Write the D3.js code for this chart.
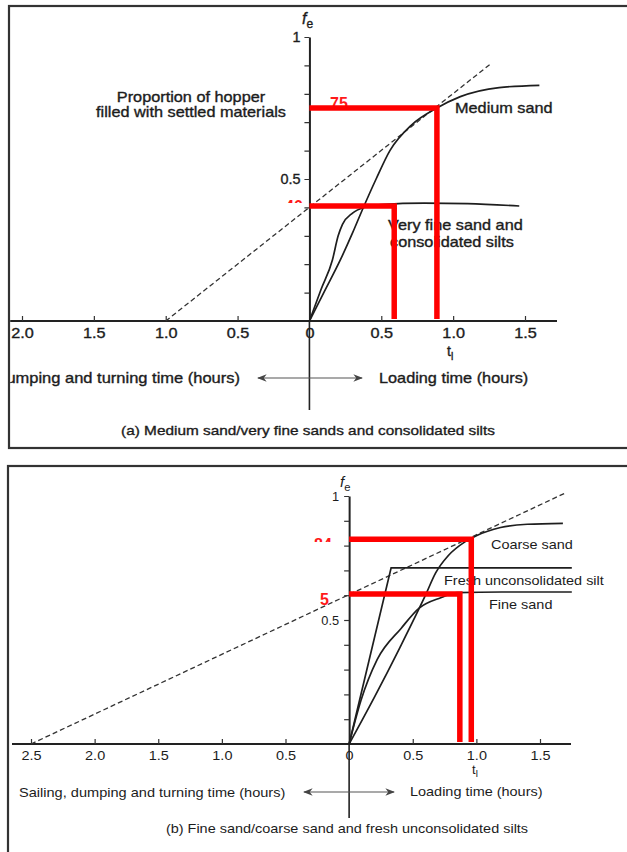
<!DOCTYPE html>
<html>
<head>
<meta charset="utf-8">
<script src="https://cdn.jsdelivr.net/npm/d3@7"></script>
<style>
  body { margin: 0; background: #fff; }
  svg { display: block; }
  text { font-family: "Liberation Sans", Arial, sans-serif; fill: #1c1c1c; }
  .heavy text { stroke: #1c1c1c; stroke-width: 0.35px; }
</style>
</head>
<body>
<div id="chart"></div>
<script>
//======= Data ======//
// x = time (hours, negative = sailing/dumping side), y = fe
var xTicksA = [-2, -1.5, -1, -0.5, 0, 0.5, 1, 1.5];
var xTicksB = [-2.5, -2, -1.5, -1, -0.5, 0, 0.5, 1, 1.5];
var yTicks = [0.1, 0.2, 0.3, 0.4, 0.5, 0.6, 0.7, 0.8, 0.9, 1];
var yLabelled = [0.5, 1];

// panel (a) curves: [loading time, fe]
var mediumSand = [[0, 0], [0.1, 0.1], [0.215, 0.215], [0.3, 0.31], [0.367, 0.39], [0.464, 0.5],
    [0.56, 0.6], [0.71, 0.69], [0.887, 0.75], [1.05, 0.79], [1.32, 0.822], [1.6, 0.83]];
var veryFineSand = [[0, 0], [0.08, 0.11], [0.16, 0.215], [0.2, 0.3], [0.23, 0.34], [0.3, 0.38],
    [0.38, 0.4], [0.5, 0.41], [0.8, 0.415], [1.1, 0.413], [1.46, 0.405]];
var tangentA = [[-1, 0], [1.26, 0.905]];
var guidesA = [{t: 0.887, fe: 0.75, label: "75"}, {t: 0.59, fe: 0.405, label: "40"}];

// panel (b) curves
var coarseSand = [[0, 0], [0.2, 0.19], [0.4, 0.39], [0.6, 0.6], [0.68, 0.69], [0.78, 0.76],
    [0.91, 0.815], [1.0, 0.84], [1.19, 0.873], [1.4, 0.886], [1.68, 0.89]];
var freshSilt = [[0, 0], [0.33, 0.71], [1.75, 0.71]];
var fineSand = [[0, 0], [0.094, 0.177], [0.22, 0.34], [0.41, 0.467], [0.55, 0.548], [0.72, 0.59],
    [0.85, 0.61], [1.2, 0.613], [1.75, 0.613]];
var tangentB = [[-2.5, 0], [1.69, 1.01]];
var guidesB = [{t: 0.96, fe: 0.826, label: "84"}, {t: 0.87, fe: 0.605, label: "5"}];

var W = 627, H = 852;
var SX = 1.13; // the scan is a bit wider than a normal sans

var svg = d3.select("#chart").append("svg")
    .attr("width", W)
    .attr("height", H);
var defs = svg.append("defs");

defs.append("marker")
    .attr("id", "arrow")
    .attr("viewBox", "0 0 10 10")
    .attr("refX", 9).attr("refY", 5)
    .attr("markerWidth", 8).attr("markerHeight", 8)
    .attr("orient", "auto-start-reverse")
    .append("path")
    .attr("d", "M0,1 L10,5 L0,9 L3,5 Z")
    .attr("fill", "#444");

// stretched text helper
function label(g, x, y, str, size, anchor) {
    return g.append("text")
        .attr("transform", "translate(" + x + "," + y + ") scale(" + SX + ",1)")
        .attr("text-anchor", anchor || "start")
        .style("font-size", size + "px")
        .text(str);
}

function subLabel(g, x, y, main, sub, size, italic) {
    var t = g.append("text")
        .attr("transform", "translate(" + x + "," + y + ")")
        .style("font-size", size + "px");
    t.append("tspan").style("font-style", italic ? "italic" : "normal").text(main);
    t.append("tspan").attr("dy", size * 0.25).style("font-size", (size * 0.75) + "px").text(sub);
    return t;
}

/*
 * Draw one panel of the figure
 */
function drawPanel(p) {
    var g = svg.append("g").attr("class", p.heavy ? "heavy" : null);

    // frame (runs off the right side of the scan)
    g.append("rect")
        .attr("x", p.frame[0]).attr("y", p.frame[1])
        .attr("width", W + 20).attr("height", p.frame[2] - p.frame[1])
        .attr("fill", "none")
        .attr("stroke", "#333")
        .attr("stroke-width", 2.2);

    defs.append("clipPath").attr("id", "clip-" + p.id)
        .append("rect")
        .attr("x", p.frame[0] + 1.2).attr("y", p.frame[1] + 1.2)
        .attr("width", W).attr("height", p.frame[2] - p.frame[1] - 2.4);

    var c = g.append("g").attr("clip-path", "url(#clip-" + p.id + ")");
    var x = p.x, y = p.y;

    // x axis line
    c.append("line")
        .attr("x1", p.axisExtent[0]).attr("x2", p.axisExtent[1])
        .attr("y1", y(0)).attr("y2", y(0))
        .attr("stroke", "#222").attr("stroke-width", 2);

    var xAxis = d3.axisBottom(x)
        .tickValues(p.xTicks)
        .tickSize(-5)
        .tickSizeOuter(0)
        .tickPadding(7)
        .tickFormat(function(d) { return d === 0 ? "0" : Math.abs(d).toFixed(1); });

    var gx = c.append("g")
        .attr("transform", "translate(0," + y(0) + ")")
        .call(xAxis);
    gx.select(".domain").remove();
    gx.selectAll(".tick line").attr("stroke", "#333").attr("stroke-width", 1.2);
    gx.selectAll(".tick text")
        .attr("transform", "scale(" + SX + ",1)")
        .style("font-size", p.font + "px");

    // y axis
    var yAxis = d3.axisLeft(y)
        .tickValues(yTicks)
        .tickSize(5)
        .tickSizeOuter(0)
        .tickPadding(p.yPad)
        .tickFormat(function(d) {
            if (yLabelled.indexOf(d) < 0) return "";
            return d === 1 ? "1" : d.toFixed(1);
        });

    var gy = c.append("g")
        .attr("transform", "translate(" + x(0) + ",0)")
        .call(yAxis);
    gy.select(".domain").attr("stroke", "#222").attr("stroke-width", 2);
    gy.selectAll(".tick line").attr("stroke", "#333").attr("stroke-width", 1.2);
    gy.selectAll(".tick text").style("font-size", p.font + "px");

    // divider below the axis
    c.append("line")
        .attr("x1", x(0)).attr("x2", x(0))
        .attr("y1", y(0)).attr("y2", p.dividerBottom)
        .attr("stroke", "#222").attr("stroke-width", 1.6);

    // double arrow
    c.append("line")
        .attr("x1", p.arrow[0]).attr("x2", p.arrow[1])
        .attr("y1", p.arrow[2]).attr("y2", p.arrow[2])
        .attr("stroke", "#555").attr("stroke-width", 1.2)
        .attr("marker-start", "url(#arrow)")
        .attr("marker-end", "url(#arrow)");

    // dashed tangent
    var line = d3.line()
        .x(function(d) { return x(d[0]); })
        .y(function(d) { return y(d[1]); });

    c.append("path")
        .datum(p.tangent)
        .attr("d", line)
        .attr("fill", "none")
        .attr("stroke", "#333")
        .attr("stroke-width", 1.3)
        .attr("stroke-dasharray", "5,3");

    // curves
    p.curves.forEach(function(cv) {
        var ln = d3.line()
            .x(function(d) { return x(d[0]); })
            .y(function(d) { return y(d[1]); })
            .curve(cv.straight ? d3.curveLinear : d3.curveMonotoneX);
        c.append("path")
            .datum(cv.data)
            .attr("d", ln)
            .attr("fill", "none")
            .attr("stroke", "#1e1e1e")
            .attr("stroke-width", 1.7);
    });

    // text
    p.texts(c);

    // red guide labels (partly hidden in the scan)
    p.guides.forEach(function(gd, i) {
        var pos = p.redLabels[i];
        var tx = c.append("text")
            .attr("x", pos[0]).attr("y", pos[1])
            .style("font-size", "16px")
            .style("font-weight", "bold")
            .style("fill", "#ff1a1a")
            .style("stroke", "none")
            .text(gd.label);
        if (pos[2]) {
            var id = "rl-" + p.id + i;
            defs.append("clipPath").attr("id", id)
                .append("rect").attr("x", 0).attr("y", 0).attr("width", W).attr("height", pos[2]);
            tx.attr("clip-path", "url(#" + id + ")");
        }
    });

    // red guide lines
    p.guides.forEach(function(gd) {
        c.append("path")
            .attr("d", "M" + x(0) + "," + y(gd.fe) + "H" + x(gd.t) + "V" + (y(0) - 2))
            .attr("fill", "none")
            .attr("stroke", "#ff0000")
            .attr("stroke-width", 5.5)
            .attr("stroke-linejoin", "miter");
    });
}

//======= Panel (a) ======//
drawPanel({
    id: "a",
    heavy: true,
    frame: [9, 6, 448],
    x: d3.scaleLinear().domain([-2, 1.5]).range([22, 525]),
    y: d3.scaleLinear().domain([0, 1]).range([321, 37]),
    axisExtent: [9, 557],
    xTicks: xTicksA,
    font: 14.4,
    yPad: 4,
    dividerBottom: 410,
    arrow: [258, 362, 378],
    tangent: tangentA,
    curves: [{data: mediumSand}, {data: veryFineSand}],
    guides: guidesA,
    redLabels: [[330, 109], [285, 212, 203]],
    texts: function(c) {
        subLabel(c, 302, 24, "f", "e", 16, true);
        subLabel(c, 447, 356, "t", "l", 14, false);
        label(c, 191, 102, "Proportion of hopper", 14.4, "middle");
        label(c, 191, 117, "filled with settled materials", 14.4, "middle");
        label(c, 455, 113, "Medium sand", 14.4);
        label(c, 388, 230, "Very fine sand and", 14.4);
        label(c, 390, 247, "consolidated silts", 14.4);
        label(c, 240, 383, "Sailing, dumping and turning time (hours)", 14.6, "end");
        label(c, 379, 383, "Loading time (hours)", 14.4);
        label(c, 308, 435, "(a) Medium sand/very fine sands and consolidated silts", 13.6, "middle");
    }
});

//======= Panel (b) ======//
drawPanel({
    id: "b",
    heavy: false,
    frame: [8, 466, 900],
    x: d3.scaleLinear().domain([-2.5, 1.5]).range([31, 540]),
    y: d3.scaleLinear().domain([0, 1]).range([744, 496]),
    axisExtent: [12, 571],
    xTicks: xTicksB,
    font: 12.8,
    yPad: 5,
    dividerBottom: 818,
    arrow: [304, 394, 792],
    tangent: tangentB,
    curves: [{data: coarseSand}, {data: freshSilt, straight: true}, {data: fineSand}],
    guides: guidesB,
    redLabels: [[314, 550, 542], [320, 605]],
    texts: function(c) {
        subLabel(c, 340, 487, "f", "e", 15, true);
        subLabel(c, 472, 774, "t", "l", 13, false);
        label(c, 491, 549, "Coarse sand", 12.8);
        label(c, 444, 585, "Fresh unconsolidated silt", 12.8);
        label(c, 489, 609, "Fine sand", 12.8);
        label(c, 19, 797, "Sailing, dumping and turning time (hours)", 12.9);
        label(c, 410, 796, "Loading time (hours)", 12.8);
        label(c, 347, 833, "(b) Fine sand/coarse sand and fresh unconsolidated silts", 12.8, "middle");
    }
});
</script>
</body>
</html>
